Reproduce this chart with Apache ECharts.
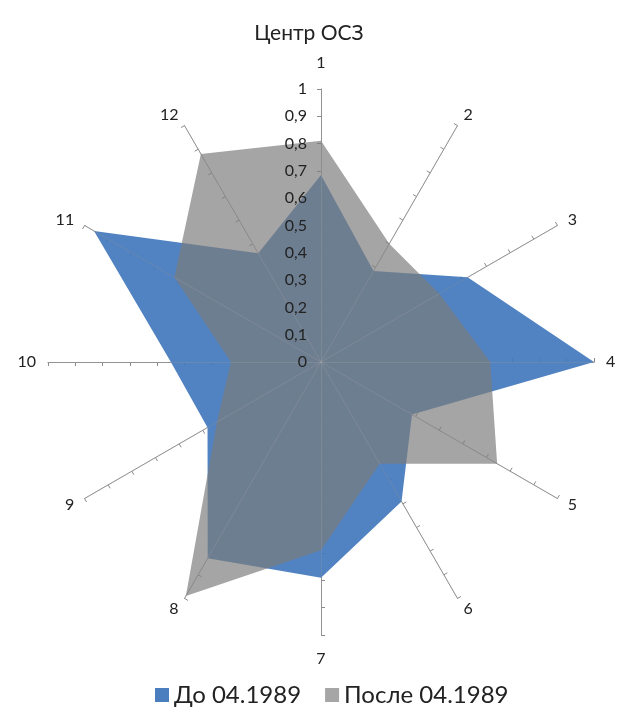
<!DOCTYPE html>
<html>
<head>
<meta charset="utf-8">
<title>Центр ОСЗ</title>
<script src="https://cdn.jsdelivr.net/npm/echarts@6/dist/echarts.min.js"></script>
<style>
  html, body { margin: 0; padding: 0; background: #fff; }
  #chart { width: 618px; height: 717px; }
</style>
</head>
<body>
<div id="chart"></div>
<script>
// axes 1..12, read clockwise from the top
var axisNames = ['1', '2', '3', '4', '5', '6', '7', '8', '9', '10', '11', '12']
var seriesNames = ['До 04.1989', 'После 04.1989']
var before = [0.685, 0.385, 0.62, 1.0, 0.385, 0.59, 0.79, 0.83, 0.48, 0.55, 0.96, 0.46]
var after = [0.81, 0.50, 0.50, 0.62, 0.745, 0.43, 0.69, 0.99, 0.44, 0.33, 0.62, 0.88]

var fontFam = 'Lato, "Noto Sans", sans-serif'

// echarts lays indicators out counter-clockwise, so reorder to go clockwise
var order = [0]
for (var i = axisNames.length - 1; i > 0; i--) order.push(i)
function pick (arr) { return order.map(function (k) { return arr[k] }) }

// radar 0: axes with names and ticks, under the fills
var indicators = order.map(function (k, idx) {
  var ind = { name: axisNames[k], min: 0, max: 1 }
  if (idx === 0) ind.nameGap = 18
  if (idx === 6) ind.nameGap = 16
  return ind
})
// radar 1: same geometry, faint axes + value labels of the top axis, above the fills
var labelIndicators = order.map(function (k, idx) {
  var ind = { name: axisNames[k], min: 0, max: 1 }
  if (idx === 0) {
    ind.axisLabel = {
      show: true,
      color: '#222',
      fontSize: 16,
      fontFamily: fontFam,
      margin: 14,
      formatter: function (v) { return String(+v.toFixed(1)).replace('.', ',') }
    }
  }
  return ind
})

var chart = echarts.init(document.getElementById('chart'))
chart.setOption({
  animation: false,
  title: {
    text: 'Центр ОСЗ',
    left: 'center',
    top: 18,
    textStyle: { fontSize: 21, fontWeight: 'normal', color: '#222', fontFamily: fontFam }
  },
  legend: {
    bottom: 5,
    left: 150,
    icon: 'rect',
    itemWidth: 14,
    itemHeight: 14,
    itemGap: 24,
    data: seriesNames,
    textStyle: { fontSize: 24, color: '#222', fontFamily: fontFam }
  },
  radar: [
    {
      center: [321, 362],
      radius: 273,
      startAngle: 90,
      splitNumber: 10,
      shape: 'polygon',
      nameGap: 12,
      axisName: { color: '#222', fontSize: 16, fontFamily: fontFam },
      axisLine: { show: true, lineStyle: { color: '#8a8a8a', width: 1 } },
      axisTick: { show: true, length: 4, lineStyle: { color: '#8a8a8a' } },
      axisLabel: { show: false },
      splitLine: { show: false },
      splitArea: { show: false },
      indicator: indicators
    },
    {
      center: [321, 362],
      radius: 273,
      startAngle: 90,
      splitNumber: 10,
      shape: 'polygon',
      z: 10,
      axisName: { show: false },
      axisLine: { show: true, lineStyle: { color: 'rgba(170,170,170,0.3)', width: 1 } },
      axisTick: { show: false },
      axisLabel: { show: false },
      splitLine: { show: false },
      splitArea: { show: false },
      indicator: labelIndicators
    }
  ],
  series: [{
    type: 'radar',
    radarIndex: 0,
    symbol: 'none',
    data: [
      {
        name: seriesNames[0],
        value: pick(before),
        itemStyle: { color: '#4a7ebf' },
        lineStyle: { width: 0 },
        areaStyle: { color: 'rgb(68,120,188)', opacity: 0.93 }
      },
      {
        name: seriesNames[1],
        value: pick(after),
        itemStyle: { color: '#a6a6a6' },
        lineStyle: { width: 0 },
        areaStyle: { color: 'rgb(125,125,125)', opacity: 0.69 }
      }
    ]
  }]
})
</script>
</body>
</html>
